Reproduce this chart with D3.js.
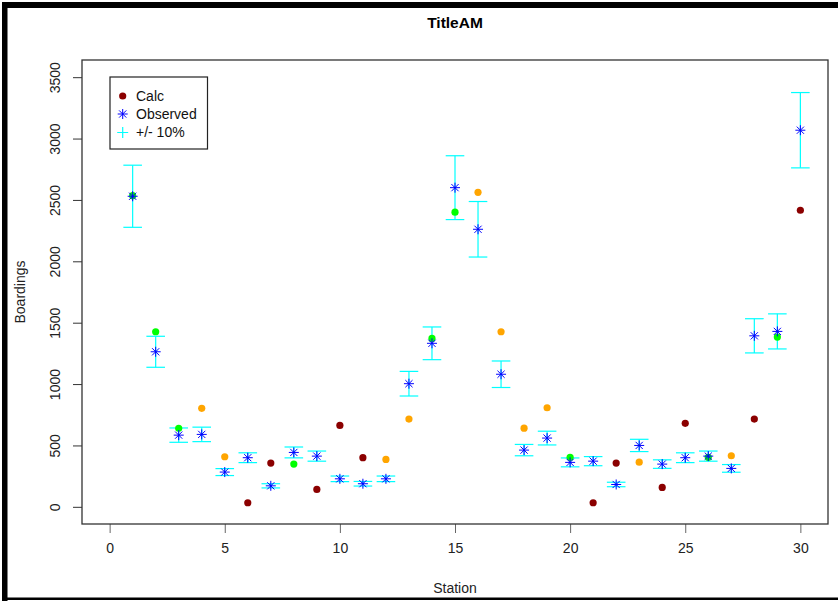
<!DOCTYPE html>
<html>
<head>
<meta charset="utf-8">
<script src="https://cdn.jsdelivr.net/npm/d3@7"></script>
<style>
  body { margin: 0; background: #fff; }
  svg { display: block; font-family: "Liberation Sans", Arial, sans-serif; }
</style>
</head>
<body>
<div id="chart"></div>
<script>
// station numbers, observed and calculated boardings
const stations = d3.range(1, 31);
const observed = [2530, 1263, 584, 590, 283, 400, 171, 443, 413, 228,
  188, 228, 1003, 1332, 2600, 2261, 1080, 462, 560, 362,
  372, 182, 500, 348, 400, 413, 313, 1393, 1429, 3068];
const calc = [2535, 1426, 640, 802, 408, 33, 356, 348, 142, 663,
  400, 386, 715, 1372, 2400, 2562, 1426, 641, 807, 403,
  33, 356, 364, 158, 680, 403, 416, 715, 1383, 2416];
// colour group of each calc point as drawn in the picture
const calcGroup = ['g', 'g', 'g', 'o', 'o', 'r', 'r', 'g', 'r', 'r',
  'r', 'o', 'o', 'g', 'g', 'o', 'o', 'o', 'o', 'g',
  'r', 'r', 'o', 'r', 'r', 'g', 'o', 'r', 'g', 'r'];
const xTicks = [0, 5, 10, 15, 20, 25, 30];
const yTicks = [0, 500, 1000, 1500, 2000, 2500, 3000, 3500];
const legendLabels = ['Calc', 'Observed', '+/- 10%'];

const width = 838;
const height = 601;
const box = { left: 82, right: 828, top: 60, bottom: 524 };

const svg = d3.select('#chart').append('svg')
  .attr('width', width)
  .attr('height', height);

// outer frame (right edge is cut off in the picture)
svg.append('rect').attr('x', 2).attr('y', 2).attr('width', 836).attr('height', 6).attr('fill', '#000');
svg.append('rect').attr('x', 2).attr('y', 2).attr('width', 5.5).attr('height', 599).attr('fill', '#000');
svg.append('rect').attr('x', 2).attr('y', 597.5).attr('width', 836).attr('height', 2.5).attr('fill', '#000');

// R style: limits 0..30 and 0..3500 extended by 4%
const x = d3.scaleLinear().domain([-1.2, 31.2]).range([box.left, box.right]);
const y = d3.scaleLinear().domain([-140, 3640]).range([box.bottom, box.top]);

const calcColor = d3.scaleOrdinal()
  .domain(['g', 'o', 'r'])
  .range(['#00ff00', '#ffa500', '#8b0000']);

svg.append('text')
  .attr('x', 455).attr('y', 28)
  .attr('text-anchor', 'middle')
  .attr('font-weight', 'bold')
  .attr('font-size', 15.5)
  .text('TitleAM');

// axes
const xAxis = svg.append('g')
  .attr('transform', `translate(0,${box.bottom})`)
  .call(d3.axisBottom(x).tickValues(xTicks).tickSize(9).tickPadding(10));
xAxis.select('.domain').remove();
xAxis.selectAll('line').attr('stroke', '#666');
xAxis.selectAll('text').attr('font-size', 14).attr('fill', '#222');

const yAxis = svg.append('g')
  .attr('transform', `translate(${box.left},0)`)
  .call(d3.axisLeft(y).tickValues(yTicks).tickSize(9).tickFormat(d3.format('d')));
yAxis.select('.domain').remove();
yAxis.selectAll('line').attr('stroke', '#333');
yAxis.selectAll('text')
  .attr('font-size', 14)
  .attr('fill', '#222')
  .attr('text-anchor', 'middle')
  .attr('x', 0)
  .attr('y', 0)
  .attr('dy', 0)
  .attr('dominant-baseline', 'central')
  .attr('transform', 'translate(-27,0) rotate(-90)');

svg.append('rect')
  .attr('x', box.left).attr('y', box.top)
  .attr('width', box.right - box.left).attr('height', box.bottom - box.top)
  .attr('fill', 'none').attr('stroke', '#333').attr('stroke-width', 1.3);

svg.append('text')
  .attr('x', 455).attr('y', 593)
  .attr('text-anchor', 'middle')
  .attr('font-size', 14)
  .attr('fill', '#222')
  .text('Station');

svg.append('text')
  .attr('transform', 'translate(25,292) rotate(-90)')
  .attr('text-anchor', 'middle')
  .attr('font-size', 14)
  .attr('fill', '#222')
  .text('Boardings');

// symbols
const asterisk = (s) => {
  const d = s * 0.72;
  return `M${-s},0H${s}M0,${-s}V${s}M${-d},${-d}L${d},${d}M${-d},${d}L${d},${-d}`;
};
const plus = s => `M${-s},0H${s}M0,${-s}V${s}`;

const rows = stations.map((s, i) => ({ s, obs: observed[i], calc: calc[i], g: calcGroup[i] }));
const cap = 9.3;

const plot = svg.append('g');

// +/- 10% bars
const bars = plot.selectAll('.bar').data(rows).enter().append('g')
  .attr('stroke', '#00ffff').attr('stroke-width', 1.2).attr('fill', 'none');
bars.append('line')
  .attr('x1', d => x(d.s)).attr('x2', d => x(d.s))
  .attr('y1', d => y(d.obs * 1.1)).attr('y2', d => y(d.obs * 0.9));
bars.append('line')
  .attr('x1', d => x(d.s) - cap).attr('x2', d => x(d.s) + cap)
  .attr('y1', d => y(d.obs * 1.1)).attr('y2', d => y(d.obs * 1.1));
bars.append('line')
  .attr('x1', d => x(d.s) - cap).attr('x2', d => x(d.s) + cap)
  .attr('y1', d => y(d.obs * 0.9)).attr('y2', d => y(d.obs * 0.9));

// calc points
plot.selectAll('.calc').data(rows).enter().append('circle')
  .attr('cx', d => x(d.s))
  .attr('cy', d => y(d.calc))
  .attr('r', 3.6)
  .attr('fill', d => calcColor(d.g));

// observed asterisks
plot.selectAll('.obs').data(rows).enter().append('path')
  .attr('d', asterisk(5))
  .attr('transform', d => `translate(${x(d.s)},${y(d.obs)})`)
  .attr('stroke', '#0000ff')
  .attr('stroke-width', 1)
  .attr('fill', 'none');

// legend
const legend = svg.append('g');
legend.append('rect')
  .attr('x', 110).attr('y', 77)
  .attr('width', 97.5).attr('height', 72)
  .attr('fill', '#fff').attr('stroke', '#222').attr('stroke-width', 1.2);
const ly = [96, 114, 132.5];
legend.append('circle').attr('cx', 122.7).attr('cy', ly[0]).attr('r', 3.6).attr('fill', '#8b0000');
legend.append('path').attr('d', asterisk(5)).attr('transform', `translate(122.7,${ly[1]})`)
  .attr('stroke', '#0000ff').attr('fill', 'none');
legend.append('path').attr('d', plus(5.5)).attr('transform', `translate(122.7,${ly[2]})`)
  .attr('stroke', '#00ffff').attr('stroke-width', 1.2).attr('fill', 'none');
legend.selectAll('.lt').data(legendLabels).enter().append('text')
  .attr('x', 136)
  .attr('y', (d, i) => ly[i])
  .attr('dy', '0.35em')
  .attr('font-size', 14)
  .attr('fill', '#111')
  .text(d => d);
</script>
</body>
</html>
